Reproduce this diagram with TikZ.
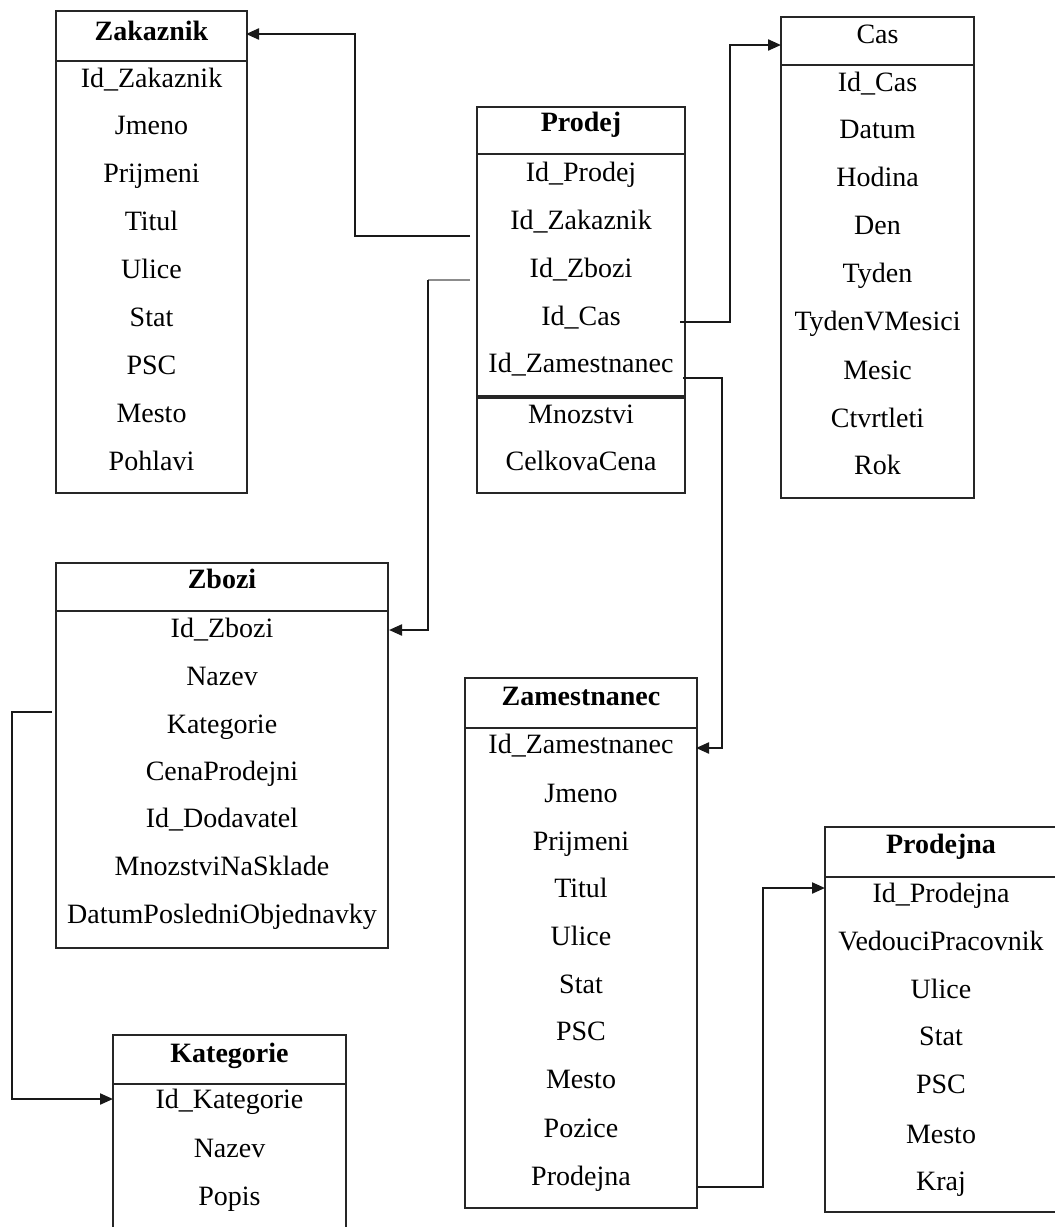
\documentclass[tikz,border=0pt]{standalone}
\usepackage{fontspec}
\setmainfont{Liberation Serif}
\usetikzlibrary{arrows.meta}

\tikzset{
  frame/.style={draw=black!85, line width=2.2pt},
  fld/.style={inner sep=0pt, anchor=base, font=\fontsize{28}{30}\selectfont},
  ttl/.style={fld, font=\fontsize{28}{30}\selectfont\bfseries},
  link/.style={draw=black!90, line width=2.2pt, -{Triangle[length=13pt,width=11pt]}},
  stub/.style={draw=black!45, line width=2.4pt},
}

\begin{document}
\begin{tikzpicture}[x=1pt,y=-1pt]
\useasboundingbox (0,0) rectangle (1055,1227);
\fill[white] (0,0) rectangle (1055,1227);

% ---------- Zakaznik ----------
\draw[frame] (56,11) rectangle (247,493);
\draw[frame] (56,61) -- (247,61);
\node[ttl] (zak-t) at (151.5,40) {Zakaznik};
\foreach \t/\y [count=\i] in {Id\_Zakaznik/87, Jmeno/134, Prijmeni/182, Titul/230,
    Ulice/278, Stat/326, PSC/374, Mesto/422, Pohlavi/470}
  \node[fld] (zak-\i) at (151.5,\y) {\t};

% ---------- Prodej ----------
\draw[frame] (477,107) rectangle (685,493);
\draw[frame] (477,154) -- (685,154);
\draw[frame, line width=3.8pt] (477,397) -- (685,397);
\node[ttl] (pro-t) at (581,131) {Prodej};
\foreach \t/\y [count=\i] in {Id\_Prodej/181, Id\_Zakaznik/229, Id\_Zbozi/277,
    Id\_Cas/325, Id\_Zamestnanec/372, Mnozstvi/423, CelkovaCena/470}
  \node[fld] (pro-\i) at (581,\y) {\t};

% ---------- Cas ----------
\draw[frame] (781,17) rectangle (974,498);
\draw[frame] (781,65) -- (974,65);
\node[fld] (cas-t) at (877.5,43) {Cas};
\foreach \t/\y [count=\i] in {Id\_Cas/91, Datum/138, Hodina/186, Den/234, Tyden/282,
    TydenVMesici/330, Mesic/379, Ctvrtleti/427, Rok/474}
  \node[fld] (cas-\i) at (877.5,\y) {\t};

% ---------- Zbozi ----------
\draw[frame] (56,563) rectangle (388,948);
\draw[frame] (56,611) -- (388,611);
\node[ttl] (zbo-t) at (222,588) {Zbozi};
\foreach \t/\y [count=\i] in {Id\_Zbozi/637, Nazev/685, Kategorie/733, CenaProdejni/780,
    Id\_Dodavatel/827, MnozstviNaSklade/875, DatumPosledniObjednavky/923}
  \node[fld] (zbo-\i) at (222,\y) {\t};

% ---------- Kategorie (runs past the lower edge) ----------
\draw[frame] (113,1240) -- (113,1035) -- (346,1035) -- (346,1240);
\draw[frame] (113,1084) -- (346,1084);
\node[ttl] (kat-t) at (229.5,1062) {Kategorie};
\foreach \t/\y [count=\i] in {Id\_Kategorie/1108, Nazev/1157, Popis/1205}
  \node[fld] (kat-\i) at (229.5,\y) {\t};

% ---------- Zamestnanec ----------
\draw[frame] (465,678) rectangle (697,1208);
\draw[frame] (465,728) -- (697,728);
\node[ttl] (zam-t) at (581,705) {Zamestnanec};
\foreach \t/\y [count=\i] in {Id\_Zamestnanec/753, Jmeno/802, Prijmeni/850, Titul/897,
    Ulice/945, Stat/993, PSC/1040, Mesto/1088, Pozice/1137, Prodejna/1185}
  \node[fld] (zam-\i) at (581,\y) {\t};

% ---------- Prodejna (runs past the right edge) ----------
\draw[frame] (1065,827) -- (825,827) -- (825,1212) -- (1065,1212);
\draw[frame] (825,877) -- (1065,877);
\node[ttl] (pdn-t) at (941,853) {Prodejna};
\foreach \t/\y [count=\i] in {Id\_Prodejna/902, VedouciPracovnik/950, Ulice/998,
    Stat/1045, PSC/1093, Mesto/1143, Kraj/1190}
  \node[fld] (pdn-\i) at (941,\y) {\t};

% ---------- connector ends ----------
\coordinate (o-zak) at (470,236);   \coordinate (i-zak) at (246,34);
\coordinate (o-zbo) at (470,280);   \coordinate (k-zbo) at (428,280);
\coordinate (i-zbo) at (389,630);
\coordinate (o-cas) at (680,322);   \coordinate (i-cas) at (781,45);
\coordinate (o-zam) at (683,378);   \coordinate (i-zam) at (696,748);
\coordinate (o-kat) at (52,712);    \coordinate (i-kat) at (113,1099);
\coordinate (o-pdn) at (698,1187);  \coordinate (i-pdn) at (825,888);

% ---------- connectors ----------
\draw[link] (o-zak) -- ++(-115,0) |- (i-zak);
\draw[stub] (o-zbo) -- (k-zbo);
\draw[link] (k-zbo) |- (i-zbo);
\draw[link] (o-cas) -- ++(50,0) |- (i-cas);
\draw[link] (o-zam) -- ++(39,0) |- (i-zam);
\draw[link] (o-kat) -- ++(-40,0) |- (i-kat);
\draw[link] (o-pdn) -- ++(65,0) |- (i-pdn);
\end{tikzpicture}
\end{document}
